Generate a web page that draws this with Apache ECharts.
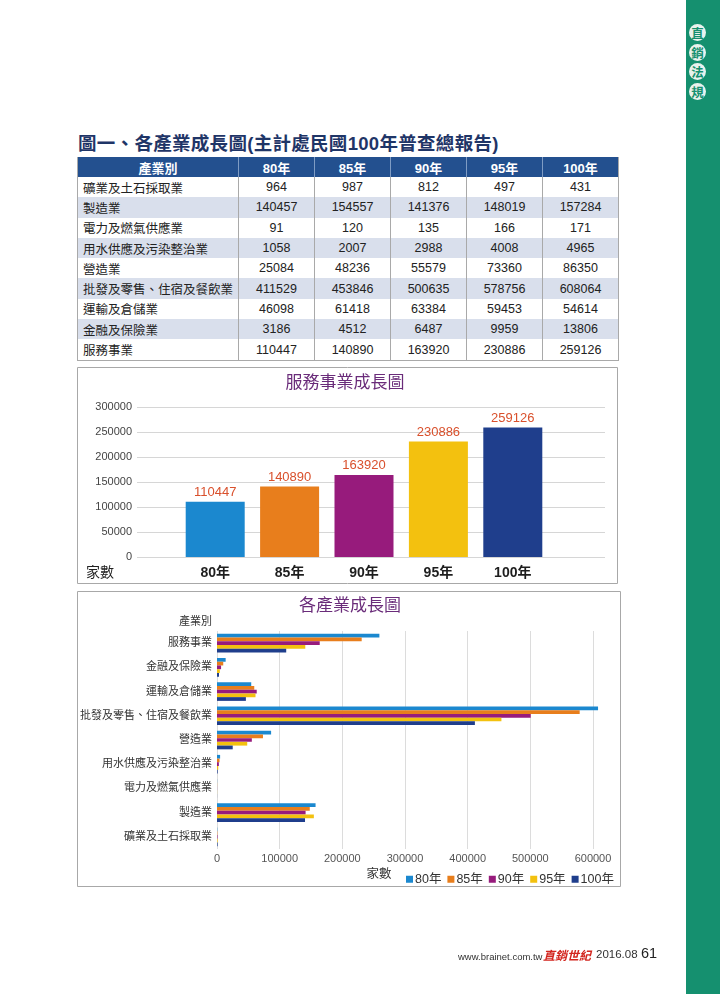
<!DOCTYPE html>
<html>
<head>
<meta charset="utf-8">
<script src="https://cdn.jsdelivr.net/npm/echarts@6/dist/echarts.min.js"></script>
<style>
  html, body { margin:0; padding:0; background:#fff; }
  body { width:720px; height:994px; position:relative; overflow:hidden;
         font-family:"Liberation Sans","Noto Sans CJK TC",sans-serif; }
  #title { position:absolute; left:78px; top:129px; font-size:18.5px; font-weight:bold; color:#1f3567; white-space:nowrap; letter-spacing:0.3px; }
  table { position:absolute; left:77px; top:157px; width:541px; border-collapse:collapse; table-layout:fixed;
          font-size:12.5px; color:#222; border-left:1px solid #a9a9a9; border-right:1px solid #a9a9a9; border-bottom:1px solid #a9a9a9; }
  th { background:#23508f; color:#fff; font-weight:bold; height:20px; padding:0; font-size:13px; border-left:1px solid #7f9cc4; white-space:nowrap; }
  th:first-child { border-left:none; }
  td { height:20.3px; padding:0; text-align:center; border-left:1px solid #a9a9a9; white-space:nowrap; overflow:hidden; }
  td:first-child { text-align:left; padding-left:5px; border-left:none; }
  tr.shade td { background:#d9dfec; }
  #strip { position:absolute; left:686px; top:0; width:34px; height:994px; background:#15906f; }
  .circ { position:absolute; left:689px; width:17px; height:17px; border-radius:50%; background:#e9f2ee;
          color:#15906f; font-size:12.5px; font-weight:bold; line-height:17px; text-align:center; font-family:"Noto Sans CJK TC",sans-serif; }
  #chart { position:absolute; left:0; top:0; width:720px; height:994px; }
  .foot { position:absolute; white-space:nowrap; }
</style>
</head>
<body>
<div id="title">圖一、各產業成長圖(主計處民國100年普查總報告)</div>
<table id="tbl"></table>
<div id="strip"></div>
<div class="circ" style="top:24px">直</div>
<div class="circ" style="top:44px">銷</div>
<div class="circ" style="top:63px">法</div>
<div class="circ" style="top:83px">規</div>
<div id="chart"></div>
<div class="foot" style="left:458px;top:951px;font-size:9.5px;color:#333;">www.brainet.com.tw</div>
<div class="foot" style="left:543px;top:946px;font-size:12px;color:#d3261f;font-weight:bold;font-style:italic;font-family:'Noto Sans CJK TC',sans-serif;">直銷世紀</div>
<div class="foot" style="left:596px;top:948px;font-size:11.5px;color:#333;">2016.08</div>
<div class="foot" style="left:641px;top:945px;font-size:14.5px;color:#222;">61</div>
<script>
// ---------- data ----------
const industries = ['礦業及土石採取業','製造業','電力及燃氣供應業','用水供應及污染整治業','營造業','批發及零售、住宿及餐飲業','運輸及倉儲業','金融及保險業','服務事業'];
const years = ['80年','85年','90年','95年','100年'];
const y80  = [964, 140457, 91, 1058, 25084, 411529, 46098, 3186, 110447];
const y85  = [987, 154557, 120, 2007, 48236, 453846, 61418, 4512, 140890];
const y90  = [812, 141376, 135, 2988, 55579, 500635, 63384, 6487, 163920];
const y95  = [497, 148019, 166, 4008, 73360, 578756, 59453, 9959, 230886];
const y100 = [431, 157284, 171, 4965, 86350, 608064, 54614, 13806, 259126];
const serviceValues = [110447, 140890, 163920, 230886, 259126];
const yearColors = ['#1b88cf', '#e87e1c', '#971b7c', '#f3c10f', '#1f3e8c'];
// As printed: the legend/colour order (80年 light blue ... 100年 dark blue) sits over bars
// whose lengths, top to bottom in each group, are the 100年, 95年, 90年, 85年, 80年 values.
const hbarData = [y100, y95, y90, y85, y80];

const FONT = '"Liberation Sans","Noto Sans CJK TC",sans-serif';

// ---------- table ----------
const byYear = [y80, y85, y90, y95, y100];
let html = '<colgroup><col style="width:161px">' + years.map(() => '<col style="width:76px">').join('') + '</colgroup>';
html += '<tr><th>產業別</th>' + years.map(y => '<th>' + y + '</th>').join('') + '</tr>';
industries.forEach((name, i) => {
  html += '<tr' + (i % 2 === 1 ? ' class="shade"' : '') + '><td>' + name + '</td>' +
    byYear.map(arr => '<td>' + arr[i] + '</td>').join('') + '</tr>';
});
document.getElementById('tbl').innerHTML = html;

// ---------- charts ----------
const plain = v => String(v);
const chart = echarts.init(document.getElementById('chart'), null, {renderer: 'canvas'});
const option = {
  animation: false,
  textStyle: { fontFamily: FONT },
  graphic: [
    { type: 'rect', shape: { x: 77.5, y: 367.5, width: 540, height: 216 }, style: { fill: 'none', stroke: '#a8a8a8', lineWidth: 1 } },
    { type: 'rect', shape: { x: 77.5, y: 591.5, width: 543, height: 295 }, style: { fill: 'none', stroke: '#a8a8a8', lineWidth: 1 } },
    { type: 'text', x: 345, y: 383, style: { text: '服務事業成長圖', align: 'center', verticalAlign: 'middle', font: '17px ' + FONT, fill: '#6a2c7a' } },
    { type: 'text', x: 100, y: 573, style: { text: '家數', align: 'center', verticalAlign: 'middle', font: '14px ' + FONT, fill: '#222' } },
    { type: 'text', x: 350, y: 606, style: { text: '各產業成長圖', align: 'center', verticalAlign: 'middle', font: '17px ' + FONT, fill: '#6a2c7a' } },
    { type: 'text', x: 212, y: 622, style: { text: '產業別', align: 'right', verticalAlign: 'middle', font: '11px ' + FONT, fill: '#333' } },
    { type: 'text', x: 379, y: 875, style: { text: '家數', align: 'center', verticalAlign: 'middle', font: '12.5px ' + FONT, fill: '#333' } }
  ],
  legend: {
    left: 401, top: 868, itemWidth: 7, itemHeight: 7, itemGap: 6, icon: 'rect',
    textStyle: { fontSize: 12.5, color: '#333', fontFamily: FONT, padding: [0, 0, 0, -3] },
    data: years
  },
  grid: [
    { left: 137, top: 407, width: 468, height: 150 },
    { left: 178, top: 407, width: 372, height: 150 },
    { left: 217, top: 631, width: 376, height: 218 }
  ],
  xAxis: [
    { gridIndex: 0, type: 'category', data: years, show: false },
    { gridIndex: 1, type: 'category', data: years, axisLine: { show: false }, axisTick: { show: false },
      axisLabel: { fontSize: 14, fontWeight: 'bold', color: '#1e1e1e', margin: 9 } },
    { gridIndex: 2, type: 'value', min: 0, max: 600000, interval: 100000,
      axisLine: { show: false }, axisTick: { show: false },
      axisLabel: { fontSize: 11, color: '#555', margin: 4, formatter: plain },
      splitLine: { lineStyle: { color: '#dcdcdc' } } }
  ],
  yAxis: [
    { gridIndex: 0, type: 'value', min: 0, max: 300000, interval: 50000,
      axisLine: { show: false }, axisTick: { show: false },
      axisLabel: { fontSize: 11, color: '#444', margin: 5, formatter: plain },
      splitLine: { lineStyle: { color: '#d6d6d6' } } },
    { gridIndex: 1, type: 'value', min: 0, max: 300000, interval: 50000, show: false, splitLine: { show: false } },
    { gridIndex: 2, type: 'category', data: industries,
      axisLine: { show: false }, axisTick: { show: false },
      axisLabel: { fontSize: 11, color: '#333', margin: 5 } }
  ],
  series: [
    { type: 'bar', xAxisIndex: 1, yAxisIndex: 1, barWidth: 59,
      data: serviceValues.map((v, i) => ({ value: v, itemStyle: { color: yearColors[i] } })),
      label: { show: true, position: 'top', distance: 3, fontSize: 13, color: '#d9502c', formatter: p => String(p.value) } }
  ].concat(years.map((y, k) => ({
      name: y, type: 'bar', xAxisIndex: 2, yAxisIndex: 2, clip: false,
      barGap: 0, barCategoryGap: '23%',
      itemStyle: { color: yearColors[k] },
      data: hbarData[k]
  })))
};
chart.setOption(option);
</script>
</body>
</html>
